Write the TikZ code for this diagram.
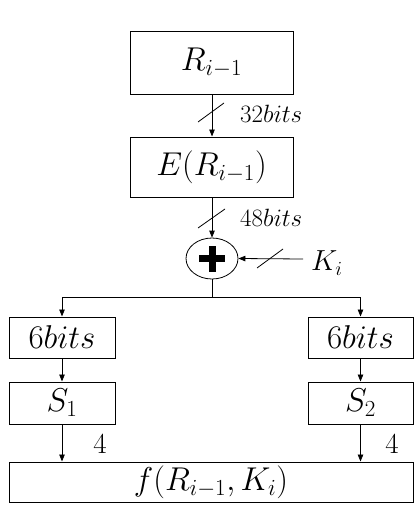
\RequirePackage{fix-cm}
\documentclass[tikz,border=0pt]{standalone}
\usetikzlibrary{arrows.meta,shapes.geometric}
\DeclareMathSizes{33}{33}{23}{17}
\DeclareMathSizes{29}{29}{20}{14}
\DeclareMathSizes{25}{25}{17}{12}
\begin{document}
\begin{tikzpicture}[x=1pt,y=-1pt,
  box/.style={draw,line width=1pt,inner sep=0pt,font=\fontsize{33}{37}\selectfont},
  conn/.style={line width=0.8pt,-{Triangle[length=7pt,width=5.5pt]}},
  lab/.style={inner sep=0pt,font=\fontsize{25}{29}\selectfont},
  labbig/.style={inner sep=0pt,font=\fontsize{29}{33}\selectfont},
  slash/.style={line width=0.8pt}]
\useasboundingbox (0,0) rectangle (419,522);
\node[box,minimum width=163,minimum height=63] (R) at (211.5,62.5) {$R_{i-1}$};
\node[box,minimum width=163,minimum height=60] (E) at (211.5,167) {$E(R_{i-1})$};
\node[draw,ellipse,line width=0.8pt,minimum width=52,minimum height=41,inner sep=0pt] (X) at (212,258.5) {};
\draw[line width=7pt] ([xshift=-13]X.center) -- ([xshift=13]X.center);
\draw[line width=7pt] ([yshift=-13]X.center) -- ([yshift=13]X.center);
\node[box,minimum width=106,minimum height=41] (L6) at (62,337.5) {$6bits$};
\node[box,minimum width=105,minimum height=41] (R6) at (360.5,337.5) {$6bits$};
\node[box,minimum width=106,minimum height=42] (S1) at (62,403) {$S_1$};
\node[box,minimum width=105,minimum height=42] (S2) at (360.5,403) {$S_2$};
\node[box,minimum width=404,minimum height=40] (F) at (211,482) {$f(R_{i-1},K_i)$};
% labels
\node[lab,anchor=west] (l32) at (240,114) {$32bits$};
\node[lab,anchor=west] (l48) at (240,218) {$48bits$};
\node[labbig,anchor=west] (K) at (311,263) {$K_i$};
\node[labbig] (f1) at (100,444) {$4$};
\node[labbig] (f2) at (392,444) {$4$};
% connectors
\draw[conn] (R.south -| X.north) -- (E.north -| X.north);
\draw[slash] (198,122) -- (224,103);
\draw[conn] (E.south -| X.north) -- (X.north);
\draw[slash] (198,228) -- (225,209);
\coordinate (kin) at (303,259);
\draw[conn] (kin) -- (X.east);
\draw[slash] (257,268) -- (283,249);
\coordinate (split) at (212,297.5);
\draw[line width=0.8pt] (X.south) -- (split);
\draw[conn] (split) -| (L6.north);
\draw[conn] (split) -| (R6.north);
\draw[conn] (L6.south) -- (S1.north);
\draw[conn] (R6.south) -- (S2.north);
\draw[conn] (S1.south) -- (S1.south |- F.north);
\draw[conn] (S2.south) -- (S2.south |- F.north);
\end{tikzpicture}
\end{document}
